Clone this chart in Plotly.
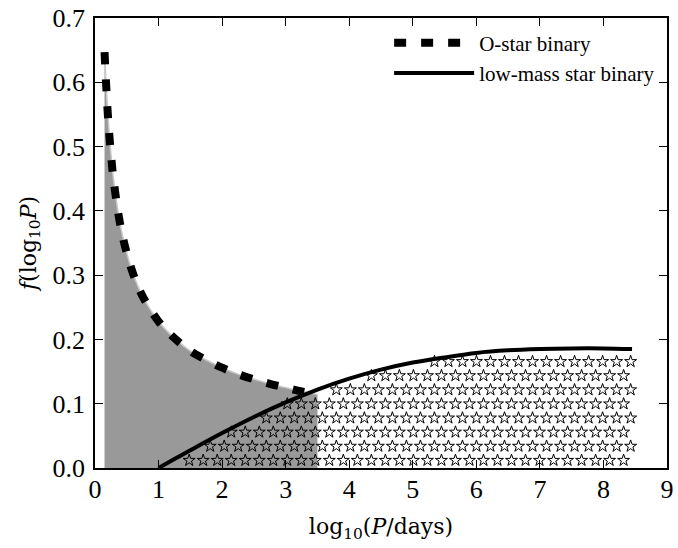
import numpy as np
import plotly.graph_objects as go

# O-star binary period distribution
o_x = [0.15, 0.2, 0.25, 0.3, 0.4, 0.5, 0.6, 0.7, 0.8, 1.0, 1.25, 1.5, 1.75,
       2.0, 2.25, 2.5, 2.75, 3.0, 3.25, 3.5]
o_y = [0.647, 0.553, 0.489, 0.442, 0.377, 0.334, 0.302, 0.277, 0.258, 0.228,
       0.202, 0.182, 0.168, 0.156, 0.146, 0.138, 0.131, 0.125, 0.119, 0.1145]

# low-mass star binary period distribution
lm_x = [1.0, 1.25, 1.5, 2.0, 2.5, 3.0, 3.5, 4.0, 4.5, 5.0, 5.5, 6.0, 6.5,
        7.0, 7.5, 8.0, 8.45]
lm_y = [0.0, 0.0139, 0.0276, 0.0543, 0.0794, 0.102, 0.122, 0.139, 0.153,
        0.164, 0.172, 0.179, 0.183, 0.185, 0.186, 0.186, 0.185]

x_ticks = [0, 1, 2, 3, 4, 5, 6, 7, 8, 9]
y_ticks = [0.0, 0.1, 0.2, 0.3, 0.4, 0.5, 0.6, 0.7]

SERIF = "Liberation Serif"
MATH = "DejaVu Serif"

# star hatch texture under the low-mass curve
dx, dy = 0.2205, 0.02195
sx, sy = [], []
for j in range(9):
    yy = 0.0119 + j * dy
    x0 = 1.482 - (0.5 * dx if j % 2 else 0.0)
    k = 0
    while True:
        xx = x0 + k * dx
        if xx > lm_x[-1] + 0.01:
            break
        if xx >= lm_x[0] and yy + 0.003 <= np.interp(xx, lm_x, lm_y):
            sx.append(xx)
            sy.append(yy)
        k += 1

fig = go.Figure()
fig.add_trace(go.Scatter(x=o_x, y=o_y, mode="lines", fill="tozeroy",
                         fillcolor="#999999", line=dict(color="#c8c8c8", width=1.5, shape="spline"),
                         showlegend=False, hoverinfo="skip"))
fig.add_trace(go.Scatter(x=sx, y=sy, mode="markers",
                         marker=dict(symbol="star-open", size=9, color="black",
                                     line=dict(width=1, color="black")),
                         showlegend=False, hoverinfo="skip"))
fig.add_trace(go.Scatter(x=o_x, y=o_y, mode="lines", name="O-star binary",
                         line=dict(color="black", width=8, dash="12px,15px", shape="spline")))
fig.add_trace(go.Scatter(x=lm_x, y=lm_y, mode="lines", name="low-mass star binary",
                         line=dict(color="black", width=4, shape="spline")))

axis_common = dict(showgrid=False, zeroline=False, showline=True, linecolor="black",
                   linewidth=1.5, mirror="ticks", ticks="inside", ticklen=8,
                   tickwidth=1.2, tickcolor="black",
                   tickfont=dict(family=SERIF, size=26, color="black"))

fig.update_layout(
    width=678, height=548,
    margin=dict(l=95, r=4, t=16, b=80),
    paper_bgcolor="white", plot_bgcolor="white",
    font=dict(family=SERIF, size=20, color="black"),
    xaxis=dict(range=[0, 9], tickvals=x_ticks, ticktext=[str(v) for v in x_ticks],
               ticklabelstandoff=-3, ticklabeloverflow="allow",
               title=dict(text="log<sub>10</sub>(<i>P</i>/days)",
                          font=dict(family=MATH, size=22, color="black"),
                          standoff=16),
               **axis_common),
    yaxis=dict(range=[0, 0.7], tickvals=y_ticks, ticktext=[f"{v:.1f}" for v in y_ticks],
               ticklabelstandoff=3,
               title=dict(text="<i>f</i>(log<sub>10</sub><i>P</i>)",
                          font=dict(family=MATH, size=22, color="black"),
                          standoff=10),
               **axis_common),
    legend=dict(x=0.988, y=0.99, xanchor="right", yanchor="top",
                bgcolor="rgba(0,0,0,0)", borderwidth=0,
                font=dict(family=SERIF, size=21, color="black"),
                itemwidth=80, tracegroupgap=0),
)

fig.write_html("out.html")
